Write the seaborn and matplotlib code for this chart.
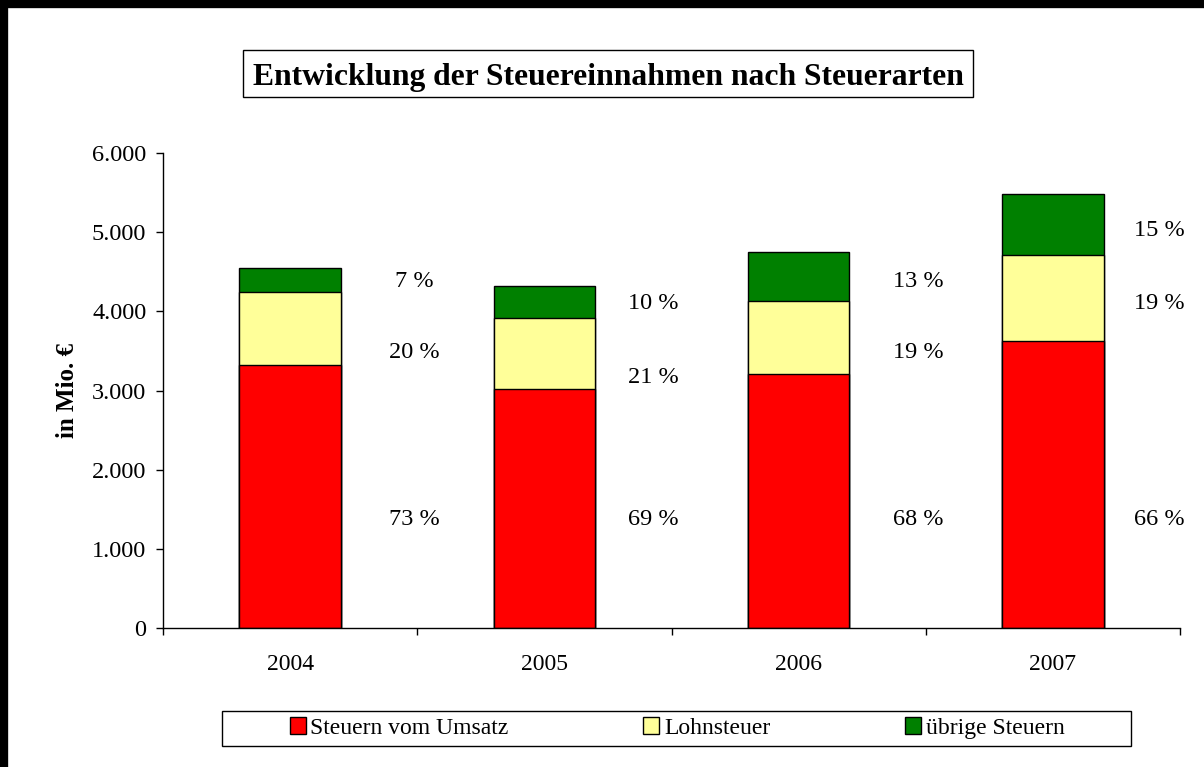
import matplotlib
matplotlib.use("Agg")
import matplotlib.pyplot as plt
import seaborn as sns
import pandas as pd
from matplotlib.lines import Line2D
from matplotlib.patches import Patch, Rectangle

# Daten (in Mio. €)
jahre = ["2004", "2005", "2006", "2007"]
umsatz = [3320, 3020, 3210, 3625]
lohnsteuer = [925, 895, 920, 1085]
uebrige = [305, 405, 620, 770]

# Prozentangaben (Text-Labels) und ihre Höhe im Diagramm
pct_umsatz = ["73 %", "69 %", "68 %", "66 %"]
pct_lohn = ["20 %", "21 %", "19 %", "19 %"]
pct_uebrig = ["7 %", "10 %", "13 %", "15 %"]
y_umsatz = [1365, 1365, 1365, 1365]
y_lohn = [3475, 3170, 3475, 4105]
y_uebrig = [4380, 4105, 4380, 5015]
dx_label = [0.49, 0.43, 0.47, 0.42]

ROT = "#FF0000"
GELB = "#FFFF99"
GRUEN = "#008000"
W, H = 1204, 767

sns.set_theme(style="white")
plt.rcParams["font.family"] = ["Liberation Serif", "DejaVu Serif"]
plt.rcParams["text.color"] = "black"
plt.rcParams["axes.labelcolor"] = "black"
plt.rcParams["xtick.color"] = "black"
plt.rcParams["ytick.color"] = "black"

df = pd.DataFrame({"jahr": jahre, "umsatz": umsatz, "lohn": lohnsteuer, "uebrig": uebrige})
df["stufe2"] = df["umsatz"] + df["lohn"]
df["gesamt"] = df["stufe2"] + df["uebrig"]

fig = plt.figure(figsize=(W / 100, H / 100), dpi=100)
ax = fig.add_axes([163 / W, 1 - 628 / H, (1180 - 163) / W, 475 / H])

kw = dict(width=0.4, edgecolor="black", linewidth=1, saturation=1, ax=ax)
sns.barplot(data=df, x="jahr", y="gesamt", color=GRUEN, **kw)
sns.barplot(data=df, x="jahr", y="stufe2", color=GELB, **kw)
sns.barplot(data=df, x="jahr", y="umsatz", color=ROT, **kw)

for i in range(len(jahre)):
    x = i + dx_label[i]
    ax.text(x, y_umsatz[i], pct_umsatz[i], ha="center", va="center", fontsize=17.5)
    ax.text(x, y_lohn[i], pct_lohn[i], ha="center", va="center", fontsize=17.5)
    ax.text(x, y_uebrig[i], pct_uebrig[i], ha="center", va="center", fontsize=17.5)

ax.set_xlim(-0.5, 3.5)
ax.set_ylim(0, 6000)
ax.set_yticks(range(0, 6001, 1000))
ax.set_yticklabels([f"{v:,}".replace(",", ".") for v in range(0, 6001, 1000)])
ax.set_xticks([-0.5, 0.5, 1.5, 2.5, 3.5], minor=True)
ax.tick_params(axis="x", which="major", length=0, pad=19, labelsize=17)
ax.tick_params(axis="x", which="minor", length=5, width=1, direction="out", bottom=True)
ax.tick_params(axis="y", length=5, width=1, direction="out", left=True, pad=7, labelsize=17.5)
ax.set_xlabel("")
ax.set_ylabel("in Mio. €", fontsize=18, fontweight="bold", labelpad=9)

for s in ["top", "right"]:
    ax.spines[s].set_visible(False)
for s in ["left", "bottom"]:
    ax.spines[s].set_color("black")
    ax.spines[s].set_linewidth(1)

# Titel mit Rahmen
fig.add_artist(Rectangle((243 / W, 1 - 97 / H), 730 / W, 47 / H, transform=fig.transFigure,
                         facecolor="white", edgecolor="black", linewidth=1))
fig.text(608 / W, 1 - 77 / H, "Entwicklung der Steuereinnahmen nach Steuerarten",
         ha="center", va="center", fontsize=22.8, fontweight="bold")

# Legende mit Rahmen
fig.add_artist(Rectangle((222 / W, 1 - 746 / H), 909 / W, 35 / H, transform=fig.transFigure,
                         facecolor="white", edgecolor="black", linewidth=1))
handles = [Patch(facecolor=ROT, edgecolor="black", label="Steuern vom Umsatz"),
           Patch(facecolor=GELB, edgecolor="black", label="Lohnsteuer"),
           Patch(facecolor=GRUEN, edgecolor="black", label="übrige Steuern")]
fig.legend(handles=handles, loc="center", bbox_to_anchor=(677 / W, 1 - 728 / H),
           ncol=3, fontsize=17, frameon=False,
           handlelength=0.68, handleheight=0.68, handletextpad=0.2, columnspacing=5.7,
           borderpad=0, borderaxespad=0)

# dicker Rahmen oben und links
fig.add_artist(Line2D([0, 1], [1 - 4 / H, 1 - 4 / H], color="black", linewidth=6, transform=fig.transFigure))
fig.add_artist(Line2D([4 / W, 4 / W], [0, 1], color="black", linewidth=6, transform=fig.transFigure))

fig.savefig("out.png", dpi=100)
